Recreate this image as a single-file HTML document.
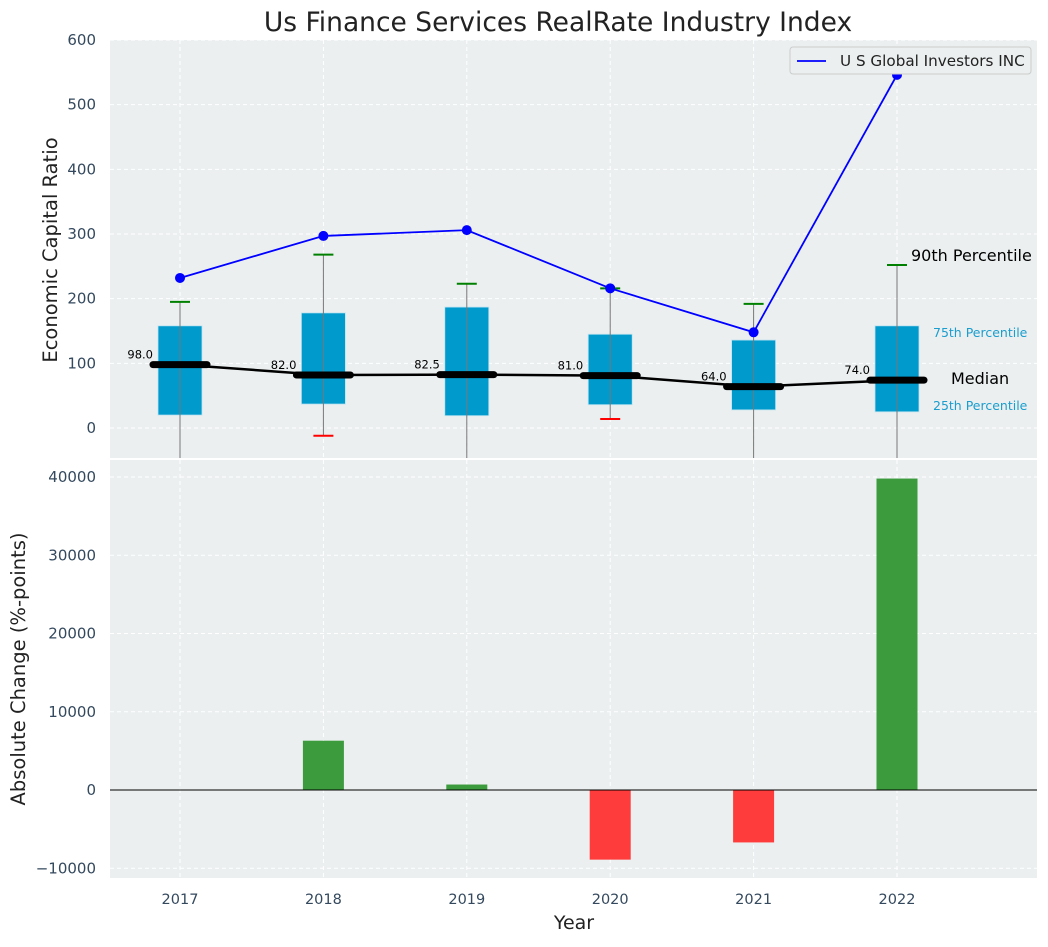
<!DOCTYPE html>
<html><head><meta charset="utf-8"><style>
body{margin:0;background:#fff;}
svg text{font-family:"DejaVu Sans","Liberation Sans",sans-serif;}
</style></head><body>
<svg id="c" width="1048" height="942" xmlns="http://www.w3.org/2000/svg"></svg>
<script>
const years=["2017","2018","2019","2020","2021","2022"];
const company=[232,297,306,216,148,546];
const p90=[195,268,223,216,192,252];
const p75=[158,178,187,145,136,158];
const median=[98,82,82.5,81,64,74];
const p25=[20,37,19,36,28,25];
const p10=[-60,-12,-60,14,-60,-60];
const change=[0,6300,700,-8900,-6700,39800];
const topTicks=[0,100,200,300,400,500,600];
const botTicks=[-10000,0,10000,20000,30000,40000];

const NS="http://www.w3.org/2000/svg";
const svg=document.getElementById('c');
function el(t,a,txt){const e=document.createElementNS(NS,t);for(const k in a)e.setAttribute(k,a[k]);if(txt!==undefined)e.textContent=txt;svg.appendChild(e);return e;}
const L=110,R=1037,T1=40,B1=458,T2=460,B2=878;
const xs=i=>180+i*143.4;
const y1=v=>428-0.6467*v;
const y2=v=>790-0.007825*v;

let e=el('rect',{x:L,y:T1,width:R-L,height:B1-T1,fill:'#ebeff0'});

e=el('rect',{x:L,y:T2,width:R-L,height:B2-T2,fill:'#ebeff0'});


years.forEach((y,i)=>{
  el('line',{x1:xs(i),x2:xs(i),y1:T1,y2:B1,stroke:'#fff','stroke-dasharray':'4,3','stroke-width':1});
  el('line',{x1:xs(i),x2:xs(i),y1:T2,y2:B2,stroke:'#fff','stroke-dasharray':'4,3','stroke-width':1});
  e=el('text',{x:xs(i),y:904,'text-anchor':'middle','font-size':14.5,fill:'#34495e'},y);
  
});
topTicks.forEach(t=>{
  el('line',{x1:L,x2:R,y1:y1(t),y2:y1(t),stroke:'#fff','stroke-dasharray':'4,3'});
  e=el('text',{x:96,y:y1(t)+5,'text-anchor':'end','font-size':15,fill:'#34495e'},t);
  
});
botTicks.forEach(t=>{
  el('line',{x1:L,x2:R,y1:y2(t),y2:y2(t),stroke:'#fff','stroke-dasharray':'4,3'});
  e=el('text',{x:96,y:y2(t)+5,'text-anchor':'end','font-size':15,fill:'#34495e'},t<0?'\u2212'+(-t):t);
  
});

const defs=el('defs',{});
const cp=document.createElementNS(NS,'clipPath');cp.setAttribute('id','cp1');
const cr=document.createElementNS(NS,'rect');cr.setAttribute('x',L);cr.setAttribute('y',T1);cr.setAttribute('width',R-L);cr.setAttribute('height',B1-T1);
cp.appendChild(cr);defs.appendChild(cp);
const g=el('g',{'clip-path':'url(#cp1)'});
function gel(t,a,txt){const x=el(t,a,txt);g.appendChild(x);return x;}

years.forEach((y,i)=>{
  const x=xs(i);
  e=gel('rect',{x:x-22,y:y1(p75[i]),width:44,height:y1(p25[i])-y1(p75[i]),fill:'#009ACD',stroke:'#bfe3f0','stroke-width':0.8});
  
  e=gel('line',{x1:x,x2:x,y1:y1(p90[i]),y2:y1(p10[i]),stroke:'#777','stroke-width':1});
  
  e=gel('line',{x1:x-10,x2:x+10,y1:y1(p90[i]),y2:y1(p90[i]),stroke:'green','stroke-width':2});
  
  e=gel('line',{x1:x-10,x2:x+10,y1:y1(p10[i]),y2:y1(p10[i]),stroke:'red','stroke-width':2});
  
});
e=gel('polyline',{points:median.map((m,i)=>xs(i)+','+y1(m)).join(' '),fill:'none',stroke:'#000','stroke-width':2.5});

median.forEach((m,i)=>{
  e=gel('line',{x1:xs(i)-27,x2:xs(i)+27,y1:y1(m),y2:y1(m),stroke:'#000','stroke-width':7,'stroke-linecap':'round'});
  
  e=gel('text',{x:xs(i)-27,y:y1(m)-6,'text-anchor':'end','font-size':11.5,fill:'#000'},m.toFixed(1));
  
});
e=gel('polyline',{points:company.map((v,i)=>xs(i)+','+y1(v)).join(' '),fill:'none',stroke:'blue','stroke-width':1.8});

company.forEach((v,i)=>{
  e=gel('circle',{cx:xs(i),cy:y1(v),r:5,fill:'blue'});
  
});
const li=5,ax=xs(li);
e=el('text',{x:ax+14,y:y1(p90[li])-4,'font-size':16,fill:'#000'},'90th Percentile');

e=el('text',{x:ax+36,y:y1(p75[li])+11,'font-size':12.5,fill:'#1a9ece'},'75th Percentile');

e=el('text',{x:ax+54,y:y1(median[li])+4,'font-size':16,fill:'#000'},'Median');

e=el('text',{x:ax+36,y:y1(p25[li])-2,'font-size':12.5,fill:'#1a9ece'},'25th Percentile');


e=el('rect',{x:790,y:47,width:241,height:27,fill:'#ebeff0',stroke:'#ccc',rx:3});

el('line',{x1:797,x2:826,y1:61,y2:61,stroke:'blue','stroke-width':1.8});
e=el('text',{x:840,y:66,'font-size':15.2,fill:'#222'},'U S Global Investors INC');


change.forEach((v,i)=>{
  const ya=y2(Math.max(v,0)),yb=y2(Math.min(v,0));
  e=el('rect',{x:xs(i)-20.5,y:ya,width:41,height:yb-ya,fill:v>=0?'#3c9b3c':'#ff3c3c'});
  
});
e=el('line',{x1:L,x2:R,y1:y2(0),y2:y2(0),stroke:'#000','stroke-width':1});


e=el('text',{x:558,y:31,'text-anchor':'middle','font-size':26.5,fill:'#222'},'Us Finance Services RealRate Industry Index');

e=el('text',{x:0,y:0,'text-anchor':'middle','font-size':19.5,fill:'#222',transform:'translate(57,250) rotate(-90)'},'Economic Capital Ratio');

e=el('text',{x:0,y:0,'text-anchor':'middle','font-size':19.5,fill:'#222',transform:'translate(25,669) rotate(-90)'},'Absolute Change (%-points)');

e=el('text',{x:574,y:929,'text-anchor':'middle','font-size':19,fill:'#222'},'Year');

</script>
</body></html>
